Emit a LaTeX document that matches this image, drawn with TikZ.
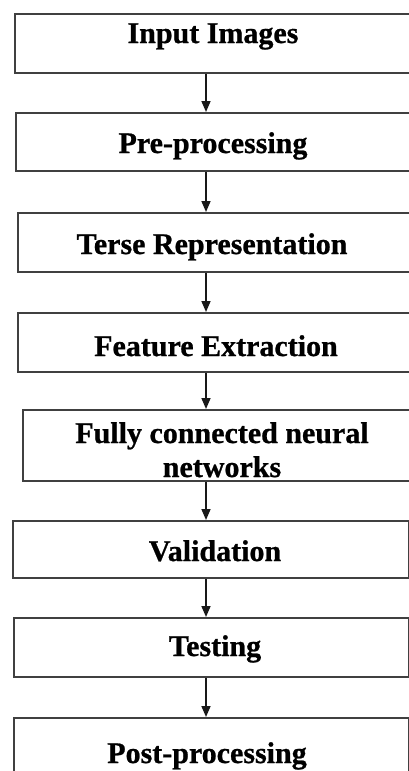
\documentclass[tikz,border=0pt]{standalone}
\usepackage{fontspec}
\setmainfont{Liberation Serif}[BoldFeatures={FakeBold=0.8}]
\usetikzlibrary{arrows.meta}
\begin{document}
\begin{tikzpicture}[x=1pt,y=-1pt,
  stagebox/.style={draw=black!75, line width=1.8pt, rectangle, inner sep=0pt, anchor=north west, fill=white},
  lbl/.style={font=\bfseries\fontsize{30}{35}\selectfont, inner sep=0pt, anchor=base, text=black, align=center},
  arr/.style={draw=black!90, line width=1.6pt, -{Triangle[width=9pt,length=11pt]}}]
\useasboundingbox (0,0) rectangle (409,771);
\clip (0,0) rectangle (409,771);
\fill[white] (0,0) rectangle (409,771);
\coordinate (ax) at (206,0);
\node[stagebox, minimum width=401pt, minimum height=59pt] (b1) at (14,13) {};
\node[stagebox, minimum width=400pt, minimum height=58pt] (b2) at (15,112) {};
\node[stagebox, minimum width=398pt, minimum height=59pt] (b3) at (17,212) {};
\node[stagebox, minimum width=398pt, minimum height=59pt] (b4) at (17,312) {};
\node[stagebox, minimum width=400pt, minimum height=71pt] (b5) at (22,409) {};
\node[stagebox, minimum width=396pt, minimum height=57pt] (b6) at (12,520) {};
\node[stagebox, minimum width=395pt, minimum height=59pt] (b7) at (13,617) {};
\node[stagebox, minimum width=395pt, minimum height=90pt] (b8) at (13,717) {};
\node[lbl] (t1) at (213,43) {Input Images};
\node[lbl] (t2) at (213,153) {Pre-processing};
\node[lbl] (t3) at (212,254) {Terse Representation};
\node[lbl] (t4) at (216,356) {Feature Extraction};
\node[lbl] (t5a) at (222,443) {Fully connected neural};
\node[lbl] (t5b) at (222,477) {networks};
\node[lbl] (t6) at (215,561) {Validation};
\node[lbl] (t7) at (215,656) {Testing};
\node[lbl] (t8) at (207,763) {Post-processing};
\draw[arr] (b1.south -| ax) -- (b2.north -| ax);
\draw[arr] (b2.south -| ax) -- (b3.north -| ax);
\draw[arr] (b3.south -| ax) -- (b4.north -| ax);
\draw[arr] (b4.south -| ax) -- (b5.north -| ax);
\draw[arr] (b5.south -| ax) -- (b6.north -| ax);
\draw[arr] (b6.south -| ax) -- (b7.north -| ax);
\draw[arr] (b7.south -| ax) -- (b8.north -| ax);
\end{tikzpicture}
\end{document}
